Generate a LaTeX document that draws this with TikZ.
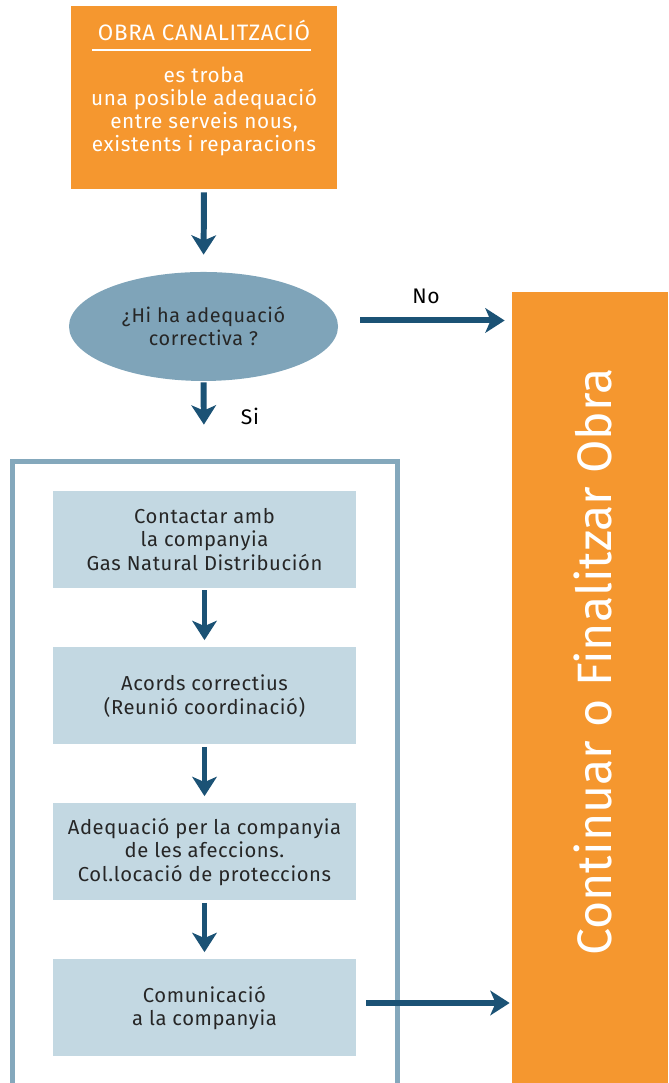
\documentclass[tikz,border=0pt]{standalone}
\usepackage{fontspec}
\setmainfont{Fira Sans}[LetterSpace=3]
\newfontfamily\bigfont{Fira Sans}
\usetikzlibrary{positioning, shapes.geometric, calc, arrows.meta}
\definecolor{obraorange}{HTML}{F5972F}
\definecolor{questionblue}{HTML}{7FA4B9}
\definecolor{stepblue}{HTML}{C3D8E2}
\definecolor{arrowblue}{HTML}{1B5275}
\definecolor{frameblue}{HTML}{84A8BC}
\tikzset{
        orange-box/.style={
            rectangle, fill=obraorange, inner sep=0pt,
            minimum width=5.32cm, minimum height=3.66cm
        },
        final-box/.style={
            rectangle, fill=obraorange, inner sep=0pt,
            minimum width=3.12cm, minimum height=15.82cm
        },
        question/.style={
            ellipse, fill=questionblue, align=center, text=black!85,
            minimum width=5.38cm, minimum height=2.18cm,
            font=\fontsize{11.3}{13.2}\selectfont
        },
        step-box/.style={
            rectangle, fill=stepblue, align=center, text=black!85,
            minimum width=6.06cm, minimum height=1.94cm,
            font=\fontsize{11.5}{13.4}\selectfont
        },
        brush-arrow/.style={
            draw=arrowblue, line width=3.4pt,
            -{Stealth[length=11pt, width=14pt, inset=3pt]}
        },
}
\begin{document}
\begin{tikzpicture}
        \useasboundingbox (0,0) rectangle (13.36,21.66);

        % DRAW NODES
        \node[orange-box]  (OBRA)    at (4.08,19.71)  {};
        \node[text=white, font=\fontsize{12.7}{15}\selectfont]
                           (TITLE)   at (4.08,21.06)  {OBRA CANALITZACIÓ};
        \node[text=white, align=center, font=\fontsize{11.8}{13.1}\selectfont]
                           (DESC)    at (4.08,19.44)  {es troba\\una posible adequació\\entre serveis nous,\\existents i reparacions};
        \node[question]    (ADEQ)    at (4.07,15.13)  {¿Hi ha adequació\\correctiva ?};
        \node[step-box]    (CONTACT) at (4.09,10.87)  {Contactar amb\\la companyia\\Gas Natural Distribución};
        \node[step-box]    (ACORDS)  at (4.09,7.74)   {Acords correctius\\(Reunió coordinació)};
        \node[step-box]    (AFECC)   at (4.09,4.62)   {Adequació per la companyia\\de les afeccions.\\Col.locació de proteccions};
        \node[step-box]    (COMUNIC) at (4.09,1.50)   {Comunicació\\a la companyia};
        \node[final-box]   (FINAL)   at (11.80,7.91)  {};
        \node[text=white, rotate=90, font=\bigfont\fontsize{27.5}{33}\selectfont]
                           (FINALTXT) at (11.86,8.42) {Continuar o Finalitzar Obra};
        \node[font=\fontsize{12}{14}\selectfont] (NO) at (8.52,15.74) {No};
        \node[font=\fontsize{12}{14}\selectfont] (SI) at (5.00,13.34) {Si};

        % TITLE RULE AND FRAME
        \draw [white, line width=1.3pt] (1.84,20.66) -- (6.22,20.66);
        \draw [frameblue, line width=0.1cm] (0.25,-0.3) |- (7.94,12.43) -- (7.94,-0.3);

        % CONNECT FLOW
        \draw [brush-arrow, shorten <=0.06cm, shorten >=0.34cm] (OBRA.south) -- (ADEQ.north);
        \draw [brush-arrow, shorten <=0.02cm, shorten >=1.32cm] (ADEQ.south) -- (CONTACT.north);
        \draw [brush-arrow, shorten <=0.04cm, shorten >=0.14cm] (CONTACT.south) -- (ACORDS.north);
        \draw [brush-arrow, shorten <=0.04cm, shorten >=0.14cm] (ACORDS.south) -- (AFECC.north);
        \draw [brush-arrow, shorten <=0.04cm, shorten >=0.14cm] (AFECC.south) -- (COMUNIC.north);

        % CONNECT TO FINAL
        \draw [brush-arrow, shorten <=0.44cm, shorten >=0.14cm] ([yshift=0.12cm]ADEQ.east) -- ([yshift=0.12cm]ADEQ.east -| FINAL.west);
        \draw [brush-arrow, shorten <=0.20cm, shorten >=0.04cm] ([yshift=0.10cm]COMUNIC.east) -- ([yshift=0.10cm]COMUNIC.east -| FINAL.west);

\end{tikzpicture}
\end{document}
